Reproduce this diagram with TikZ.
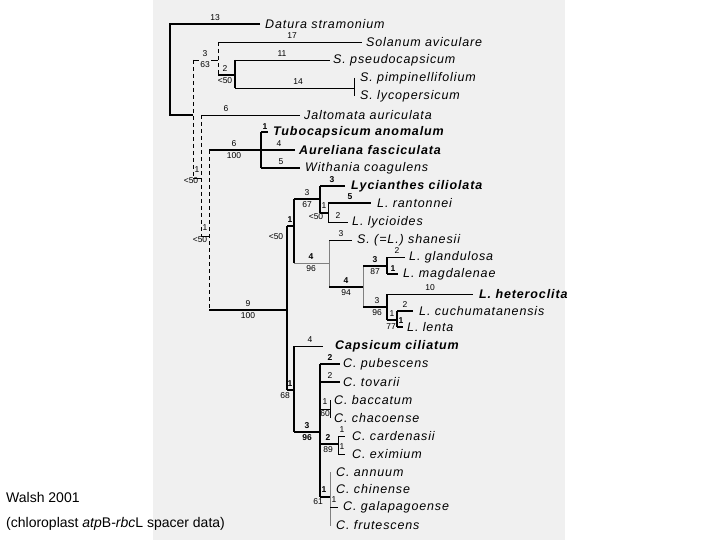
\documentclass[tikz,border=0pt]{standalone}
\usepackage{fontspec}
\setmainfont{Liberation Sans}
\newfontfamily\taxfont[LetterSpace=7]{Liberation Sans}
\begin{document}
\begin{tikzpicture}[x=1pt,y=-1pt,
  tx/.style={anchor=west,inner sep=0pt,font=\taxfont\itshape\fontsize{12.5}{13}\selectfont},
  txb/.style={anchor=west,inner sep=0pt,font=\taxfont\itshape\bfseries\fontsize{12.5}{13}\selectfont},
  lb/.style={inner sep=0pt,font=\fontsize{8.5}{9}\selectfont},
  tk/.style={line width=1.8pt},
  tn/.style={line width=0.8pt},
  dsh/.style={line width=0.8pt,dash pattern=on 4pt off 3pt}]
\useasboundingbox (0,0) rectangle (720,540);
\fill[gray!12] (153,0) rectangle (565,540);
% root
\draw[tk] (260,24) -- (170,24) -- (170,115) -- (193,115);
\node[tx] (dat) at (265,24) {Datura stramonium}; \node[lb] at (215,18) {13};
\draw[dsh] (193,60) -- (193,178);
\draw[tn] (193,60) -- (199,60); \draw[tn] (211,60) -- (218,60);
\node[lb] at (205,54) {3}; \node[lb] at (205,65) {63};
\draw[dsh] (218,42) -- (218,75);
\draw[tn] (218,42) -- (362,42); \node[tx] at (366,42) {Solanum aviculare}; \node[lb] at (292,36) {17};
\draw[tk] (218,75) -- (235,75); \node[lb] at (225,69) {2}; \node[lb] at (225,81) {<50};
\draw[tk] (235,60) -- (235,88);
\draw[tn] (235,60) -- (330,60); \node[tx] at (333,60) {S. pseudocapsicum}; \node[lb] at (282,54) {11};
\draw[tn] (235,88) -- (354,88); \node[lb] at (298,82) {14};
\draw[tn] (354,78) -- (354,96);
\node[tx] at (360,78) {S. pimpinellifolium}; \node[tx] at (360,96) {S. lycopersicum};
\draw[tn] (193,178) -- (201,178); \node[lb] at (197,170) {1}; \node[lb] at (191,181) {<50};
\draw[dsh] (201,115) -- (201,236);
\draw[tn] (201,115) -- (300,115); \node[tx] at (304,115) {Jaltomata auriculata}; \node[lb] at (226,109) {6};
\draw[tn] (201,236) -- (209,236); \node[lb] at (205,228) {1}; \node[lb] at (200,240) {<50};
\draw[dsh] (209,150) -- (209,310);
\draw[tk] (209,150) -- (261,150); \node[lb] at (234,144) {6}; \node[lb] at (234,156) {100};
\draw[tk] (261,132) -- (261,168);
\draw[tk] (261,132) -- (268,132); \node[lb] at (265,127) {\bfseries 1}; \node[txb] at (273,132) {Tubocapsicum anomalum};
\draw[tk] (261,150) -- (295,150); \node[lb] at (279,144) {4}; \node[txb] at (299,150) {Aureliana fasciculata};
\draw[tk] (261,168) -- (300,168); \node[lb] at (281,162) {5}; \node[tx] at (305,168) {Withania coagulens};
% lower clade
\draw[tk] (209,310) -- (287,310); \node[lb] at (248,304) {9}; \node[lb] at (248,316) {100};
\draw[tk] (287,226) -- (287,390);
\draw[tk] (287,226) -- (294,226); \node[lb] at (290,220) {\bfseries 1}; \node[lb] at (276,237) {<50};
\draw[tk] (294,199) -- (294,263);
\draw[tk] (294,199) -- (320,199); \node[lb] at (307,193) {3}; \node[lb] at (307,205) {67};
\draw[tk] (320,186) -- (320,213);
\draw[tk] (320,186) -- (345,186); \node[lb] at (332,180) {\bfseries 3}; \node[txb] at (351,186) {Lycianthes ciliolata};
\draw[tk] (320,213) -- (328,213); \node[lb] at (324,206) {1}; \node[lb] at (316,217) {<50};
\draw[tn] (328,203) -- (328,222);
\draw[tk] (328,203) -- (371,203); \node[lb] at (350,197) {\bfseries 5}; \node[tx] at (377,203) {L. rantonnei};
\draw[tn] (328,222) -- (348,222); \node[lb] at (338,216) {2}; \node[tx] at (352,222) {L. lycioides};
\draw[tn,gray] (294,263) -- (329,263); \node[lb] at (311,257) {\bfseries 4}; \node[lb] at (311,269) {96};
\draw[tn,gray] (329,240) -- (329,287);
\draw[tn] (329,240) -- (352,240); \node[lb] at (341,234) {3}; \node[tx] at (357,240) {S. (=L.) shanesii};
\draw[tk] (329,287) -- (363,287); \node[lb] at (346,281) {\bfseries 4}; \node[lb] at (346,293) {94};
\draw[tn,gray] (363,266) -- (363,307);
\draw[tk] (363,266) -- (387,266); \node[lb] at (375,260) {\bfseries 3}; \node[lb] at (375,272) {87};
\draw[tk] (387,257) -- (387,274);
\draw[tn] (387,257) -- (405,257); \node[lb] at (397,251) {2}; \node[tx] at (409,257) {L. glandulosa};
\draw[tk] (387,274) -- (398,274); \node[lb] at (393,269) {\bfseries 1}; \node[tx] at (403,274) {L. magdalenae};
\draw[tk] (363,307) -- (387,307); \node[lb] at (377,301) {3}; \node[lb] at (377,313) {96};
\draw[tk] (387,294) -- (387,320);
\draw[tn] (387,294) -- (473,294); \node[lb] at (430,288) {10}; \node[txb] at (479,294) {L. heteroclita};
\draw[tk] (387,320) -- (397,320); \node[lb] at (392,314) {1}; \node[lb] at (391,327) {77};
\draw[tk] (397,311) -- (397,327);
\draw[tk] (397,311) -- (413,311); \node[lb] at (405,305) {2}; \node[tx] at (419,311) {L. cuchumatanensis};
\draw[tk] (397,327) -- (403,327); \node[lb] at (401,321) {\bfseries 1}; \node[tx] at (407,327) {L. lenta};
% Capsicum
\draw[tk] (287,390) -- (294,390); \node[lb] at (290,384) {\bfseries 1}; \node[lb] at (285,396) {68};
\draw[tk] (294,346) -- (294,432);
\draw[tn] (294,346) -- (323,346); \node[lb] at (310,340) {4}; \node[txb] at (335,346) {Capsicum ciliatum};
\draw[tk] (294,432) -- (320,432); \node[lb] at (307,426) {\bfseries 3}; \node[lb] at (307,438) {\bfseries 96};
\draw[tk] (320,364) -- (320,497);
\draw[tk] (320,364) -- (340,364); \node[lb] at (330,358) {\bfseries 2}; \node[tx] at (343,364) {C. pubescens};
\draw[tk] (320,382) -- (340,382); \node[lb] at (330,376) {2}; \node[tx] at (343,382) {C. tovarii};
\draw[tn] (320,409) -- (330,409); \node[lb] at (325,402) {1}; \node[lb] at (325,414) {60};
\draw[tn] (330,400) -- (330,418);
\node[tx] at (334,400) {C. baccatum}; \node[tx] at (334,418) {C. chacoense};
\draw[tk] (320,444) -- (338,444); \node[lb] at (328,438) {\bfseries 2}; \node[lb] at (328,450) {89};
\draw[tn] (338,436) -- (338,454);
\draw[tn] (338,436) -- (345,436); \draw[tn] (338,454) -- (345,454);
\node[lb] at (342,430) {1}; \node[lb] at (342,447) {1};
\node[tx] at (352,436) {C. cardenasii}; \node[tx] at (352,454) {C. eximium};
\draw[tk] (320,497) -- (330,497); \node[lb] at (324,490) {\bfseries 1}; \node[lb] at (318,502) {61};
\draw[tn,gray] (330,472) -- (330,526);
\draw[tn] (330,507) -- (338,507); \node[lb] at (334,500) {1};
\node[tx] at (336,472) {C. annuum}; \node[tx] at (336,489) {C. chinense};
\node[tx] at (343,507) {C. galapagoense}; \node[tx] at (336,525) {C. frutescens};
% caption
\node[anchor=west,inner sep=0pt,font=\fontsize{14}{15}\selectfont] (c1) at (6,497) {Walsh 2001};
\node[anchor=west,inner sep=0pt,font=\fontsize{14}{15}\selectfont] (c2) at (6,524) {(chloroplast \textit{atp}B-\textit{rbc}L spacer data)};
\end{tikzpicture}
\end{document}
